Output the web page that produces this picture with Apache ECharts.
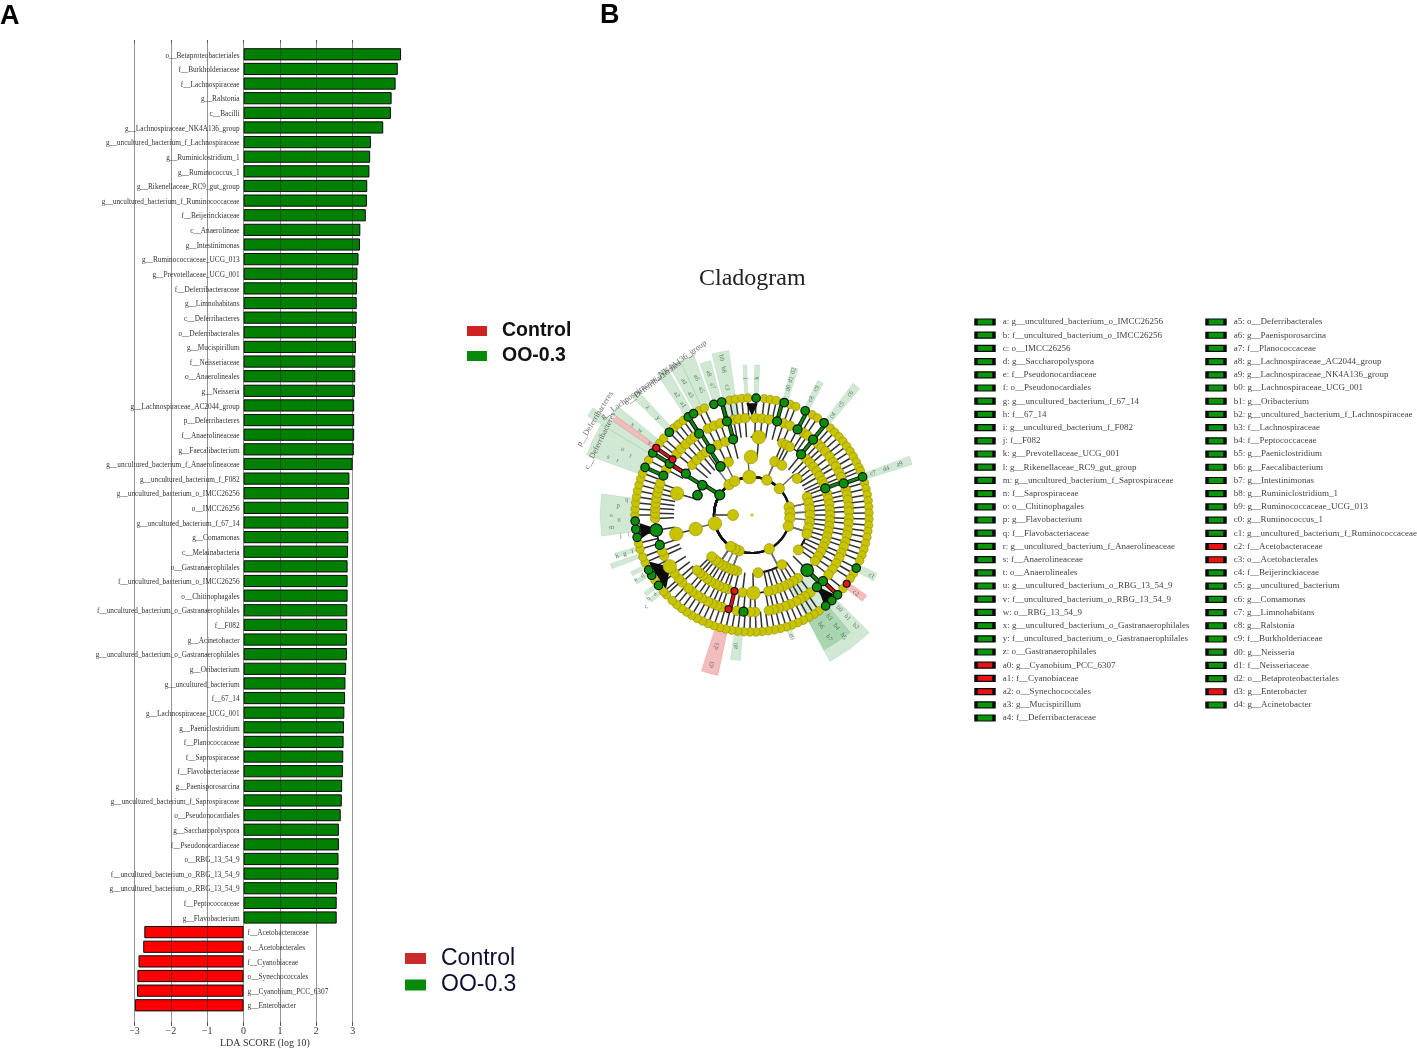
<!DOCTYPE html>
<html><head><meta charset="utf-8">
<script src="https://cdn.jsdelivr.net/npm/echarts@6/dist/echarts.min.js"></script>
<style>html,body{margin:0;padding:0;background:#fff}#c{width:1417px;height:1051px;filter:blur(0.55px)}</style>
</head><body><div id="c"></div>
<script>
// ---------- Panel A: LDA bars ----------
const greenCategories = ['o__Betaproteobacteriales','f__Burkholderiaceae','f__Lachnospiraceae','g__Ralstonia','c__Bacilli','g__Lachnospiraceae_NK4A136_group','g__uncultured_bacterium_f_Lachnospiraceae','g__Ruminiclostridium_1','g__Ruminococcus_1','g__Rikenellaceae_RC9_gut_group','g__uncultured_bacterium_f_Ruminococcaceae','f__Beijerinckiaceae','c__Anaerolineae','g__Intestinimonas','g__Ruminococcaceae_UCG_013','g__Prevotellaceae_UCG_001','f__Deferribacteraceae','g__Limnohabitans','c__Deferribacteres','o__Deferribacterales','g__Mucispirillum','f__Neisseriaceae','o__Anaerolineales','g__Neisseria','g__Lachnospiraceae_AC2044_group','p__Deferribacteres','f__Anaerolineaceae','g__Faecalibacterium','g__uncultured_bacterium_f_Anaerolineaceae','g__uncultured_bacterium_f_F082','g__uncultured_bacterium_o_IMCC26256','o__IMCC26256','g__uncultured_bacterium_f_67_14','g__Comamonas','c__Melainabacteria','o__Gastranaerophilales','f__uncultured_bacterium_o_IMCC26256','o__Chitinophagales','f__uncultured_bacterium_o_Gastranaerophilales','f__F082','g__Acinetobacter','g__uncultured_bacterium_o_Gastranaerophilales','g__Oribacterium','g__uncultured_bacterium','f__67_14','g__Lachnospiraceae_UCG_001','g__Paeniclostridium','f__Planococcaceae','f__Saprospiraceae','f__Flavobacteriaceae','g__Paenisporosarcina','g__uncultured_bacterium_f_Saprospiraceae','o__Pseudonocardiales','g__Saccharopolyspora','f__Pseudonocardiaceae','o__RBG_13_54_9','f__uncultured_bacterium_o_RBG_13_54_9','g__uncultured_bacterium_o_RBG_13_54_9','f__Peptococcaceae','g__Flavobacterium'];
const redCategories = ['f__Acetobacteraceae','o__Acetobacterales','f__Cyanobiaceae','o__Synechococcales','g__Cyanobium_PCC_6307','g__Enterobacter'];
const greenScores = [4.33,4.24,4.18,4.07,4.05,3.84,3.50,3.48,3.46,3.40,3.39,3.36,3.21,3.20,3.16,3.13,3.12,3.11,3.11,3.09,3.09,3.07,3.07,3.06,3.04,3.04,3.04,3.03,3.00,2.91,2.90,2.88,2.88,2.88,2.87,2.86,2.86,2.86,2.85,2.85,2.84,2.84,2.82,2.80,2.79,2.77,2.76,2.75,2.74,2.73,2.71,2.70,2.67,2.62,2.62,2.61,2.61,2.57,2.56,2.56];
const redScores = [-2.73,-2.76,-2.89,-2.92,-2.93,-2.99];
const xTicks = [-3,3];

// ---------- Panel B: cladogram (angle in degrees clockwise from north, one list per ring) ----------
const ringRadii = [19,38,58,78,97,117];
const ring1Yellow = [270];
const ring2Yellow = [356,23,46,78,87,95,107,153,200,207,214,257,323,333];
const ring3Yellow = [359,23,31,51,72,78,84,90,97,103,109,127,149,174,195,199,203,207,211,215,219,224,256,336];
const ring4Yellow = [5,23,26,29,44,48,52,56,60,64,67,74,78,82,86,90,94,98,102,106,110,114,118,122,126,144,148,152,156,160,164,168,179,187,198,201,205,208,212,215,219,222,225,256,286,310,315,320,324,334,340];
const ring5Yellow = [2,6,10,19,23,32,35,43,46,49,53,57,60,64,67,75,78,81,85,88,92,95,99,102,106,109,113,116,120,124,128,143,147,150,153,157,160,164,167,170,178,181,189,198,201,204,207,211,214,218,221,226,229,233,238,245,248,268,271,274,277,280,283,286,289,298,309,313,317,321,324,333,337,341,349,352,356];
const ring6Yellow = [6,9,12,19,22,31,34,42,45,48,51,54,57,60,63,66,68,74,77,80,83,86,89,92,95,98,101,104,107,110,113,120,123,129,145,148,151,154,157,160,163,166,169,172,175,178,181,184,187,190,193,196,199,202,205,208,211,214,217,220,223,227,229,236,246,249,253,256,270,273,276,279,282,285,288,291,298,308,311,318,321,324,333,336,349,352,355,358];
const ring2Green = [302]; const ring3Green = [290,301,327];
const ring4Green = [39,70,135,302,328,346]; const ring5Green = [15,28,39,71,133,138,185,252,261,294,302,327,345];
const ring6Green = [2,16,27,38,71,117,133,137,141,233,239,242,259,263,267,294,302,315,327,330,341,345];
const ring4Red = [193]; const ring5Red = [194,305]; const ring6Red = [126,305];
const largeYellow = [[38,356],[38,257],[58,359],[58,256],[78,5],[78,179],[78,256],[78,286],[97,238]];
const largeGreen = [[78,135],[97,261]];
// highlighted clades: [startAngle, endAngle, innerRadius, outerRadius]
const greenShades = [[262,278,116,152],[290,301,118,176],[314.5,317.5,118,168],[301,304,118,192],[306,309,118,172],[326,330,118,170],[331,335,118,170],[335,340,118,170],[341,345,118,160],[346,352,97,166],[356.5,358,118,150],[1,3,118,150],[15,17.5,118,153],[26,28.5,118,150],[37.5,40.5,118,166],[69.5,72.5,118,168],[115,118.5,118,138],[135,152,80,166],[140,152,118,153],[184.5,188.5,118,146],[161,163,118,128],[229,231,118,133],[232.5,234.5,118,133],[239,241,118,134],[243,245,118,134],[249,251,118,150],[252.5,254.5,118,142]];
const redShades = [[304,306,118,168],[125,128,118,140],[192,198,118,164]];
const denseFans = [[229,246,97,114],[258,266,97,113],[134,141,97,114],[357,3,99,112]];
const cladeTags = [['d3',136,195],['d3',155,195],['a0',132,187],['c2',130,127],['c1',134,117],['c0',128,162],['b0',128,137],['b1',140,137],['b2',152,137],['b3',128,143],['b4',140,143],['b5',152,143],['b6',130,148],['b7',145,148],['d0',132,16],['d1',141,16],['d2',150,16],['c8',130,27],['c9',142,27],['c4',128,39],['c5',142,39],['c6',156,39],['c7',128,71],['d4',142,71],['a9',156,71],['l',137,357],['k',137,2],['a',125,231],['b',133,231],['c',140,229],['d',125,241],['e',133,241],['f',125,253],['g',133,253],['h',141,253],['i',125,261],['j',133,261],['m',141,265],['n',133,268],['o',141,270],['p',134,274],['q',126,277],['r',145,292],['s',155,292],['t',135,296],['u',145,297],['v',125,305],['w',140,307],['x',150,307],['y',135,316],['z',150,316],['a1',130,328],['a2',142,328],['a3',135,333],['a4',150,333],['a5',135,338],['a6',148,338],['a7',135,343],['a8',148,343],['c3',130,349],['b8',148,349],['b9',160,349]];
const cladeNames = [['p__Deferribacteres',184,301.5],['c__Deferribacteres',169,296],['o__Deferribacterales',165,323],['g__Lachnospiraceae_NK4A136_group',167,324]];

// ---------- Panel B key ----------
const keyLeft = ['a: g__uncultured_bacterium_o_IMCC26256','b: f__uncultured_bacterium_o_IMCC26256','c: o__IMCC26256','d: g__Saccharopolyspora','e: f__Pseudonocardiaceae','f: o__Pseudonocardiales','g: g__uncultured_bacterium_f_67_14','h: f__67_14','i: g__uncultured_bacterium_f_F082','j: f__F082','k: g__Prevotellaceae_UCG_001','l: g__Rikenellaceae_RC9_gut_group','m: g__uncultured_bacterium_f_Saprospiraceae','n: f__Saprospiraceae','o: o__Chitinophagales','p: g__Flavobacterium','q: f__Flavobacteriaceae','r: g__uncultured_bacterium_f_Anaerolineaceae','s: f__Anaerolineaceae','t: o__Anaerolineales','u: g__uncultured_bacterium_o_RBG_13_54_9','v: f__uncultured_bacterium_o_RBG_13_54_9','w: o__RBG_13_54_9','x: g__uncultured_bacterium_o_Gastranaerophilales','y: f__uncultured_bacterium_o_Gastranaerophilales','z: o__Gastranaerophilales','a0: g__Cyanobium_PCC_6307','a1: f__Cyanobiaceae','a2: o__Synechococcales','a3: g__Mucispirillum','a4: f__Deferribacteraceae'];
const keyRight = ['a5: o__Deferribacterales','a6: g__Paenisporosarcina','a7: f__Planococcaceae','a8: g__Lachnospiraceae_AC2044_group','a9: g__Lachnospiraceae_NK4A136_group','b0: g__Lachnospiraceae_UCG_001','b1: g__Oribacterium','b2: g__uncultured_bacterium_f_Lachnospiraceae','b3: f__Lachnospiraceae','b4: f__Peptococcaceae','b5: g__Paeniclostridium','b6: g__Faecalibacterium','b7: g__Intestinimonas','b8: g__Ruminiclostridium_1','b9: g__Ruminococcaceae_UCG_013','c0: g__Ruminococcus_1','c1: g__uncultured_bacterium_f_Ruminococcaceae','c2: f__Acetobacteraceae','c3: o__Acetobacterales','c4: f__Beijerinckiaceae','c5: g__uncultured_bacterium','c6: g__Comamonas','c7: g__Limnohabitans','c8: g__Ralstonia','c9: f__Burkholderiaceae','d0: g__Neisseria','d1: f__Neisseriaceae','d2: o__Betaproteobacteriales','d3: g__Enterobacter','d4: g__Acinetobacter'];
const keyRedCodes = ['a0','a1','a2','c2','c3','d3'];

// ---------- build ----------
const SERIF = '"Liberation Serif","Times New Roman",serif', SANS = '"Liberation Sans",Arial,sans-serif';
const GREEN = '#008000', RED = '#ff0000';
const cats = greenCategories.concat(redCategories);
const labelBase = {show:true, formatter:'{b}', fontFamily:SERIF, fontSize:7.3, color:'#333', distance:4, offset:[0,1.3]};
const pad = n => Array(n).fill(null);

const chart = echarts.init(document.getElementById('c'), null, {renderer:'canvas'});

function rings(){ return [
  ring1Yellow,
  ring2Yellow.concat(ring2Green),
  ring3Yellow.concat(ring3Green),
  ring4Yellow.concat(ring4Green,ring4Red),
  ring5Yellow.concat(ring5Green,ring5Red),
  ring6Yellow.concat(ring6Green,ring6Red)];
}
const cdiff = (a,b)=>((b-a+540)%360)-180;
const nearest = (list,a)=>list.reduce((p,q)=>Math.abs(cdiff(q,a))<Math.abs(cdiff(p,a))?q:p,list[0]);
function edges(){
  const rs = rings(), out = [];
  const gs = [[],ring2Green,ring3Green,ring4Green,ring5Green,ring6Green];
  const rd = [[],[],[],ring4Red,ring5Red,ring6Red];
  for(let k=1;k<rs.length;k++) rs[k].forEach(a=>{
    let p = nearest(rs[k-1],a), kind = 0;
    const isRed = rd[k].includes(a), isGreen = gs[k].includes(a);
    if(isRed||isGreen){
      const cand = isRed ? rd[k-1].concat(gs[k-1]) : gs[k-1];
      if(cand.length){
        const q = nearest(cand,a);
        if(Math.abs(cdiff(q,a))<=8){ p = q; kind = isRed?2:1; }
      }
    }
    out.push([ringRadii[k-1],ringRadii[k],p,a,kind]);
  });
  return out.sort((x,y)=>x[4]-y[4]);
}
function renderEdge(params, api){
  const r0=api.value(0), r1=api.value(1), ap=api.value(2), ac=api.value(3), kind=api.value(4);
  const pt=(r,a)=>api.coord([r,a]).slice(0,2);
  const d=cdiff(ap,ac), n=Math.max(1,Math.ceil(Math.abs(d)/2)), arc=[];
  for(let i=0;i<=n;i++) arc.push(pt(r1,ap+d*i/n));
  const pts=[pt(r0,ap)].concat(arc);
  const line=(stroke,w)=>({type:'polyline',shape:{points:pts},style:{stroke,lineWidth:w,fill:null}});
  if(kind===0){
    const inner=r1<=58;
    const a=inner?ap:ac;
    return {type:'group',children:[
      {type:'polyline',shape:{points:[pt(r0,a),pt(r1,a)]},style:{stroke:inner?'#666':'#303030',lineWidth:inner?1.4:1.5,fill:null}},
      {type:'polyline',shape:{points:arc},style:{stroke:'#111',lineWidth:inner?2.2:1.3,fill:null}}]};
  }
  return {type:'group',children:[line('#111',4.2),line(kind===1?'#0a8a0a':'#e01515',2.4)]};
}
const wedge=(data,fill,z)=>({type:'custom',coordinateSystem:'polar',polarIndex:0,z,silent:true,data,
  renderItem(params,api){
    const a0=api.value(0),a1=api.value(1),r0=api.value(2),r1=api.value(3),d=cdiff(a0,a1);
    const pt=(r,a)=>api.coord([r,a]).slice(0,2);
    return {type:'polygon',shape:{points:[pt(r0,a0),pt(r1,a0),pt(r1,a0+d/2),pt(r1,a1),pt(r0,a1)]},style:{fill,stroke:fill,lineWidth:.5}};
  }});
const fan=(data,fill,z)=>({type:'custom',coordinateSystem:'polar',polarIndex:0,z,silent:true,data,
  renderItem(params,api){
    const a0=api.value(0),a1=api.value(1),r0=api.value(2),r1=api.value(3),d=cdiff(a0,a1);
    const pt=(r,a)=>api.coord([r,a]).slice(0,2);
    return {type:'polygon',shape:{points:[pt(r0,a0+d/2),pt(r1,a0),pt(r1,a1)]},style:{fill}};
  }});
const nodes=(r,list,size,color,border,bw,z)=>({type:'scatter',coordinateSystem:'polar',polarIndex:0,z,silent:true,symbolSize:size,
  data:list.map(a=>[r,a]),itemStyle:{color,borderColor:border,borderWidth:bw,opacity:1}});
const Y='#c9c400',YB='#8f8c00',G='#0a8f0a';
const tagRot=a=>a<180?90-a:270-a;

const keySeries=(list,gridIndex)=>({type:'scatter',xAxisIndex:gridIndex,yAxisIndex:gridIndex,z:3,silent:true,symbol:'rect',symbolSize:[18,6],
  data:list.map((t,i)=>({value:[0,i],name:t,itemStyle:{color:keyRedCodes.includes(t.split(':')[0])?'#ee1111':'#0a960a',borderColor:'#0a0a0a',borderWidth:2,opacity:1}})),
  label:{show:true,position:'right',distance:7,formatter:'{b}',fontFamily:SERIF,fontSize:9,color:'#444'}});

const option = {
  animation:false, backgroundColor:'#fff',
  title:[
    {text:'A',left:0,top:3,padding:0,textStyle:{fontFamily:SANS,fontWeight:'bold',fontSize:27,color:'#000'}},
    {text:'B',left:600,top:2,padding:0,textStyle:{fontFamily:SANS,fontWeight:'bold',fontSize:27,color:'#000'}},
    {text:'Cladogram',left:699,top:267,padding:0,textStyle:{fontFamily:SERIF,fontWeight:'normal',fontSize:24,color:'#222'}},
    {text:'LDA SCORE (log 10)',left:220,top:1038,padding:0,textStyle:{fontFamily:SERIF,fontWeight:'normal',fontSize:10,color:'#333'}}
  ],
  legend:[
    {left:467,top:321,orient:'vertical',padding:0,icon:'rect',itemGap:5,itemWidth:20,itemHeight:10,selectedMode:false,
      data:[{name:'Control',itemStyle:{color:'#cf2222',borderWidth:0}},{name:'OO-0.3',itemStyle:{color:'#078a07',borderWidth:0}}],
      textStyle:{fontFamily:SANS,fontWeight:'bold',fontSize:19.5,lineHeight:20,color:'#111',padding:[0,0,0,10]}},
    {left:405,top:947,orient:'vertical',padding:0,icon:'rect',itemGap:3.5,itemWidth:21,itemHeight:11,selectedMode:false,
      data:[{name:'Control',itemStyle:{color:'#c92a2a',borderWidth:0}},{name:'OO-0.3',itemStyle:{color:'#078a07',borderWidth:0}}],
      textStyle:{fontFamily:SANS,fontSize:23,lineHeight:23,color:'#0c1030',padding:[0,0,0,10]}}
  ],
  grid:[
    {left:134.5,width:218.2,top:47,height:965.6},
    {left:134.5,width:218.2,top:43,height:979},
    {left:985,width:100,top:322,height:396},
    {left:1216,width:100,top:322,height:383}
  ],
  xAxis:[
    {gridIndex:0,type:'value',min:xTicks[0],max:xTicks[1],show:false},
    {gridIndex:1,type:'value',min:xTicks[0],max:xTicks[1],interval:1,position:'bottom',z:8,
      axisLine:{show:false},axisTick:{length:4,lineStyle:{color:'#555'}},
      axisLabel:{margin:4,fontFamily:SERIF,fontSize:10,color:'#333',formatter:v=>String(v).replace('-','\u2212')},
      splitLine:{show:true,lineStyle:{color:'rgba(40,40,40,0.5)',width:1}}},
    {gridIndex:2,type:'value',min:0,max:1,show:false},
    {gridIndex:3,type:'value',min:0,max:1,show:false},
    {gridIndex:1,type:'value',min:xTicks[0],max:xTicks[1],interval:1,position:'top',z:8,
      axisLine:{show:false},axisTick:{length:3,lineStyle:{color:'#555'}},axisLabel:{show:false},splitLine:{show:false}}
  ],
  yAxis:[
    {gridIndex:0,type:'category',data:cats,inverse:true,show:false},
    {gridIndex:1,type:'value',min:0,max:1,show:false},
    {gridIndex:2,type:'value',min:0,max:keyLeft.length-1,inverse:true,show:false},
    {gridIndex:3,type:'value',min:0,max:keyRight.length-1,inverse:true,show:false}
  ],
  polar:{center:[752,515],radius:195},
  radiusAxis:{polarIndex:0,min:0,max:195,show:false},
  angleAxis:{polarIndex:0,min:0,max:360,startAngle:90,show:false},
  series:[
    {name:'OO-0.3',type:'bar',xAxisIndex:0,yAxisIndex:0,barWidth:12.2,barGap:'-100%',clip:false,z:2,silent:true,
      data:greenScores.concat(pad(redScores.length)),
      itemStyle:{color:GREEN,borderColor:'#0a0a0a',borderWidth:1},
      label:Object.assign({},labelBase,{position:'left'})},
    {name:'Control',type:'bar',xAxisIndex:0,yAxisIndex:0,barWidth:12.2,barGap:'-100%',clip:false,z:2,silent:true,
      data:pad(greenScores.length).concat(redScores),
      itemStyle:{color:RED,borderColor:'#0a0a0a',borderWidth:1},
      label:Object.assign({},labelBase,{position:'right'})},
    wedge(greenShades,'rgba(20,140,40,0.2)',1),
    wedge(redShades,'rgba(220,50,50,0.32)',1),
    {type:'custom',coordinateSystem:'polar',polarIndex:0,z:2,silent:true,data:edges(),renderItem:renderEdge},
    fan(denseFans,'#0c0c0c',2),
    nodes(0,[0],3,Y,Y,0,4),
    nodes(ringRadii[0],ring1Yellow,11,Y,YB,.6,4),
    nodes(ringRadii[1],ring2Yellow,10.5,Y,YB,.6,4),
    nodes(ringRadii[2],ring3Yellow,10,Y,YB,.6,4),
    nodes(ringRadii[3],ring4Yellow,9.5,Y,YB,.6,4),
    nodes(ringRadii[4],ring5Yellow,9.5,Y,YB,.6,4),
    nodes(ringRadii[5],ring6Yellow,8.5,Y,YB,.6,4),
    {type:'scatter',coordinateSystem:'polar',polarIndex:0,z:4,silent:true,symbolSize:13.5,data:largeYellow,itemStyle:{color:Y,borderColor:YB,borderWidth:.6,opacity:1}},
    nodes(ringRadii[1],ring2Green,10,G,'#111',1.2,5),
    nodes(ringRadii[2],ring3Green,9.5,G,'#111',1.2,5),
    nodes(ringRadii[3],ring4Green,9,G,'#111',1.2,5),
    nodes(ringRadii[4],ring5Green,9,G,'#111',1.2,5),
    nodes(ringRadii[5],ring6Green,8.5,G,'#111',1.2,5),
    nodes(ringRadii[3],ring4Red,7,'#e81515','#111',1.1,5),
    nodes(ringRadii[4],ring5Red,7,'#e81515','#111',1.1,5),
    nodes(ringRadii[5],ring6Red,7,'#e81515','#111',1.1,5),
    {type:'scatter',coordinateSystem:'polar',polarIndex:0,z:5,silent:true,symbolSize:12.5,data:largeGreen,itemStyle:{color:G,borderColor:'#111',borderWidth:1.2,opacity:1}},
    {type:'scatter',coordinateSystem:'polar',polarIndex:0,z:6,silent:true,symbolSize:0,
      data:cladeTags.map(t=>({value:[t[1],t[2]],name:t[0],label:{rotate:tagRot(t[2])}})),
      label:{show:true,position:'inside',formatter:'{b}',fontFamily:SERIF,fontSize:6.5,color:'#3c5a3c'}},
    {type:'scatter',coordinateSystem:'polar',polarIndex:0,z:6,silent:true,symbolSize:0,
      data:cladeNames.map(t=>({value:[t[1],t[2]],name:t[0],label:{rotate:90-(t[2]-270)}})),
      label:{show:true,position:'inside',formatter:'{b}',fontFamily:SERIF,fontSize:8.2,color:'#4a4a4a'}},
    keySeries(keyLeft,2),
    keySeries(keyRight,3)
  ]
};
chart.setOption(option);
</script></body></html>
